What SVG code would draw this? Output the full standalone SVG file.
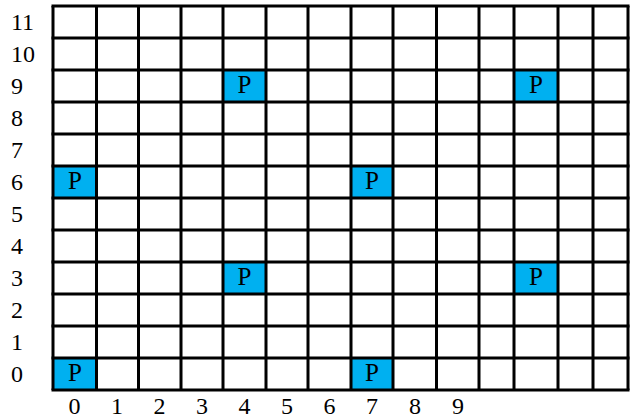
<svg xmlns="http://www.w3.org/2000/svg" width="631" height="420" viewBox="0 0 631 420">
<style>
text{font-family:'Liberation Serif','Times New Roman',Times,serif}
.lbl{font-size:24px;fill:#000}
.p{font-size:25px;fill:#000;text-anchor:middle}
.cell{fill:#00b0f0}
.grid{stroke:#000;stroke-width:3;fill:none}
</style>
<rect width="631" height="420" fill="#fff"/>
<g id="cells">
<rect class="cell" x="53" y="166" width="43.5" height="32"/>
<rect class="cell" x="53" y="358" width="43.5" height="32"/>
<rect class="cell" x="223" y="70" width="43" height="32"/>
<rect class="cell" x="223" y="262" width="43" height="32"/>
<rect class="cell" x="351" y="166" width="42" height="32"/>
<rect class="cell" x="351" y="358" width="42" height="32"/>
<rect class="cell" x="514" y="70" width="44" height="32"/>
<rect class="cell" x="514" y="262" width="44" height="32"/>
</g>
<g id="grid">
<path class="grid" d="M53 6V390M96.5 6V390M138.5 6V390M181 6V390M223 6V390M266 6V390M308 6V390M351 6V390M393 6V390M436.5 6V390M479 6V390M514 6V390M558 6V390M593 6V390M628 6V390"/>
<path class="grid" d="M51.5 6H629.5M51.5 38H629.5M51.5 70H629.5M51.5 102H629.5M51.5 134H629.5M51.5 166H629.5M51.5 198H629.5M51.5 230H629.5M51.5 262H629.5M51.5 294H629.5M51.5 326H629.5M51.5 358H629.5M51.5 390H629.5"/>
</g>
<g id="plabels">
<text class="p" x="75" y="189">P</text>
<text class="p" x="75" y="381">P</text>
<text class="p" x="244.5" y="93">P</text>
<text class="p" x="244.5" y="285">P</text>
<text class="p" x="372" y="189">P</text>
<text class="p" x="372" y="381">P</text>
<text class="p" x="536" y="93">P</text>
<text class="p" x="536" y="285">P</text>
</g>
<g id="rowlabels" class="lbl">
<text x="11" y="30">11</text>
<text x="11" y="62">10</text>
<text x="11" y="94">9</text>
<text x="11" y="126">8</text>
<text x="11" y="158">7</text>
<text x="11" y="190">6</text>
<text x="11" y="222">5</text>
<text x="11" y="254">4</text>
<text x="11" y="286">3</text>
<text x="11" y="318">2</text>
<text x="11" y="350">1</text>
<text x="11" y="382">0</text>
</g>
<g id="collabels" class="lbl" text-anchor="middle">
<text x="74.5" y="414">0</text>
<text x="117" y="414">1</text>
<text x="159.5" y="414">2</text>
<text x="202" y="414">3</text>
<text x="244.5" y="414">4</text>
<text x="287" y="414">5</text>
<text x="329.5" y="414">6</text>
<text x="372" y="414">7</text>
<text x="415" y="414">8</text>
<text x="458" y="414">9</text>
</g>
</svg>
